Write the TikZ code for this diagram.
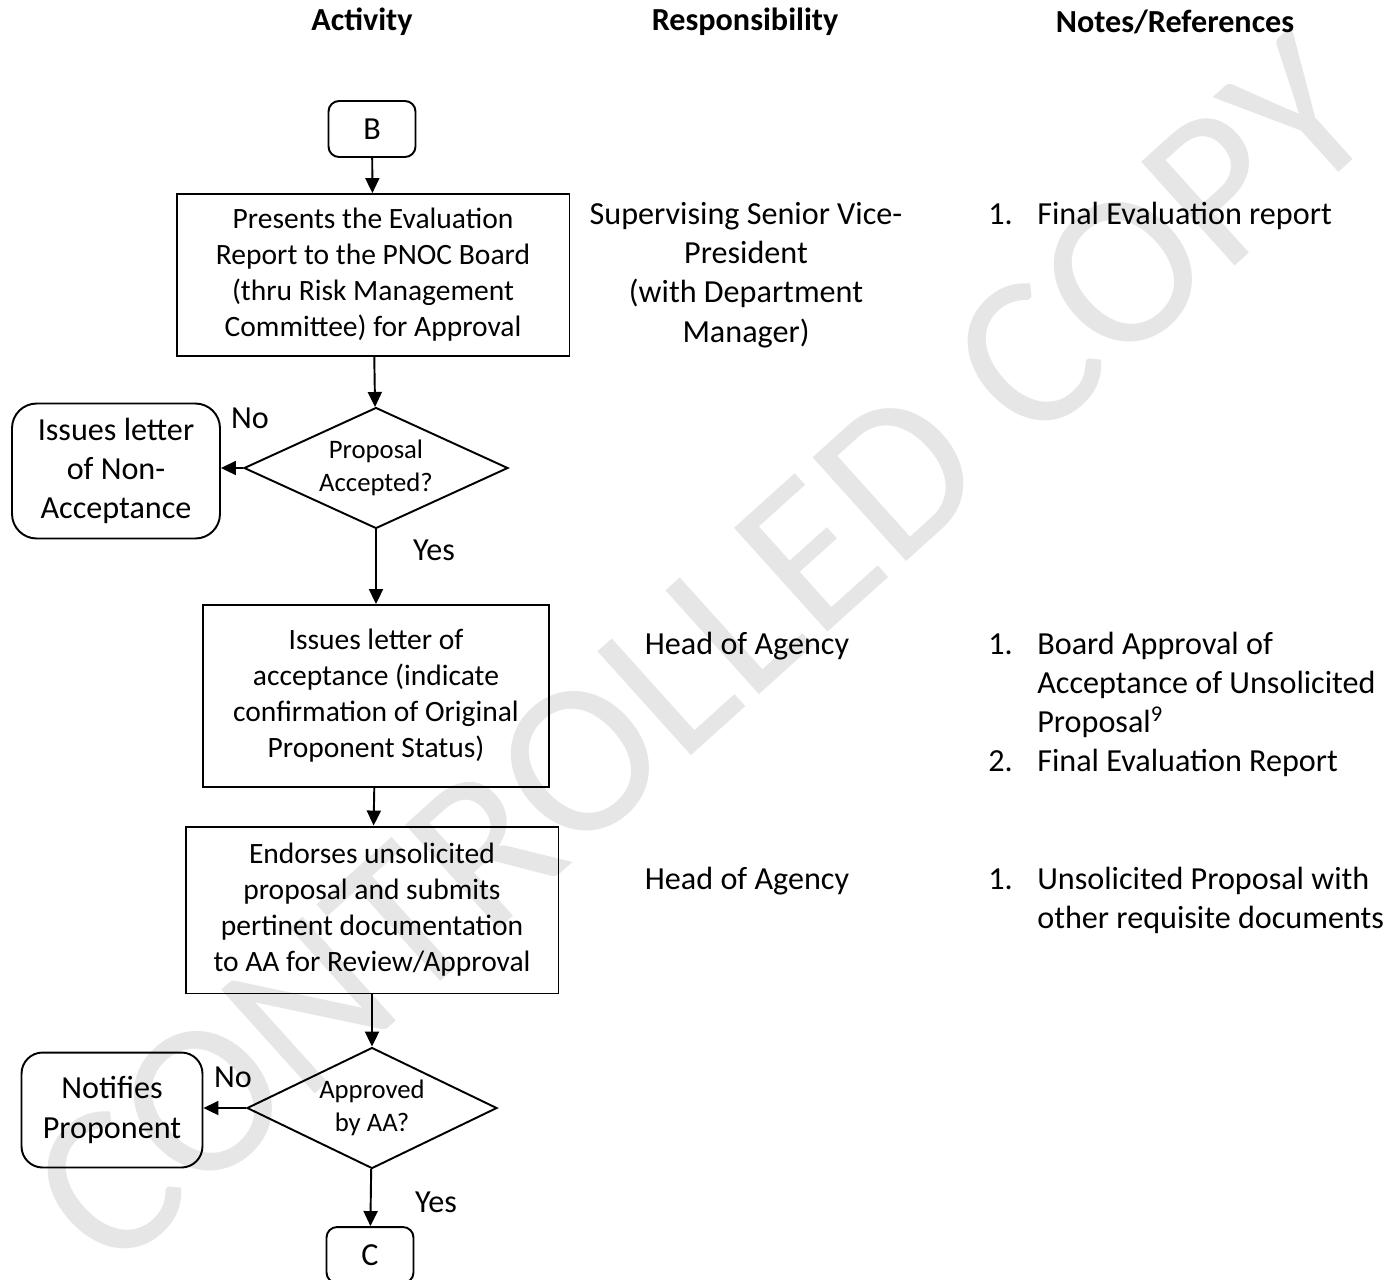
\documentclass[tikz,border=0pt]{standalone}
\usepackage{fontspec}
\setmainfont{Carlito}
\usetikzlibrary{arrows.meta,positioning,shapes.geometric}
\definecolor{wmgray}{HTML}{E6E6E6}
\newcommand{\boxfont}{\fontsize{16.8}{20.5}\selectfont}
\newcommand{\colfont}{\fontsize{18.3}{22.3}\selectfont}
\newcommand{\decfont}{\fontsize{15.2}{18.8}\selectfont}
\tikzset{
  activity/.style={rectangle,draw,line width=1.1pt,align=center,font=\boxfont,inner sep=2pt},
  terminal/.style={rectangle,rounded corners=6pt,draw,line width=1.1pt,align=center,font=\colfont,minimum width=1.74cm,minimum height=1.12cm},
  sidebox/.style={rectangle,rounded corners=14pt,draw,line width=1.1pt,align=center,font=\colfont},
  decision/.style={diamond,aspect=2.2,draw,line width=1.1pt,align=center,font=\decfont,inner sep=0pt},
  arrow/.style={-{Triangle[length=3mm,width=2.8mm]},line width=1.1pt},
  coltext/.style={font=\colfont,align=center,inner sep=0pt},
  notetext/.style={font=\colfont,inner sep=0pt,anchor=west},
  header/.style={font=\colfont\bfseries,inner sep=0pt},
  branch/.style={font=\colfont,inner sep=0pt}
}
\newcommand{\notelist}[1]{\begin{tabular}{@{}p{0.98cm}@{}l@{}}#1\end{tabular}}
\begin{document}
\begin{tikzpicture}[x=0.02cm,y=-0.02cm]
    \useasboundingbox (0,0) rectangle (1391,1279);
    % watermark
    \node[text=wmgray,font=\fontsize{124}{140}\selectfont,rotate=42,inner sep=0pt] (wm) at (702,652) {CONTROLLED COPY};
    % column headers
    \node[header] (hact) at (362,22) {Activity};
    \node[header] (hresp) at (745,22) {Responsibility};
    \node[header] (hnote) at (1175,22) {Notes/References};
    % activity column
    \node[terminal] (b) at (372,129) {B};
    \node[activity,minimum width=7.86cm,minimum height=3.24cm] (present) at (373,275) {Presents the Evaluation\\Report to the PNOC Board\\(thru Risk Management\\Committee) for Approval};
    \node[decision,minimum width=5.28cm,minimum height=2.42cm] (accepted) at (376,468) {Proposal\\Accepted?};
    \node[sidebox,minimum width=4.16cm,minimum height=2.7cm] (nonacc) at (116,471) {Issues letter\\of Non-\\Acceptance};
    \node[activity,minimum width=6.92cm,minimum height=3.64cm] (acceptance) at (376,696) {Issues letter of\\acceptance (indicate\\confirmation of Original\\Proponent Status)};
    \node[activity,minimum width=7.46cm,minimum height=3.34cm] (endorse) at (372,910) {Endorses unsolicited\\proposal and submits\\pertinent documentation\\to AA for Review/Approval};
    \node[decision,minimum width=5.0cm,minimum height=2.42cm] (approved) at (372,1108) {Approved\\by AA?};
    \node[sidebox,rounded corners=12pt,minimum width=3.62cm,minimum height=2.3cm] (notify) at (112,1110) {Notifies\\Proponent};
    \node[terminal] (c) at (370,1255) {C};
    \node[branch] (no1) at (250,418) {No};
    \node[branch] (yes1) at (434,550) {Yes};
    \node[branch] (no2) at (233,1077) {No};
    \node[branch] (yes2) at (436,1202) {Yes};
    \draw[arrow] (b) -- (present);
    \draw[arrow] (present) -- (accepted);
    \draw[arrow] (accepted.west) -- (nonacc.east |- accepted.west);
    \draw[arrow] (accepted) -- (acceptance);
    \draw[arrow] (acceptance) -- (endorse);
    \draw[arrow] (endorse) -- (approved);
    \draw[arrow] (approved.west) -- (notify.east |- approved.west);
    \draw[arrow] (approved) -- (c);
    % responsibility column
    \node[coltext] (resp1) at (746,275) {Supervising Senior Vice-\\President\\(with Department\\Manager)};
    \node[coltext] (resp2) at (747,646) {Head of Agency};
    \node[coltext] (resp3) at (747,881) {Head of Agency};
    % notes column
    \node[notetext] (note1) at (988,217) {\notelist{1.&Final Evaluation report}};
    \node[notetext] (note2) at (988,705) {\notelist{1.&Board Approval of\\&Acceptance of Unsolicited\\&Proposal\textsuperscript{9}\\2.&Final Evaluation Report}};
    \node[notetext] (note3) at (988,901) {\notelist{1.&Unsolicited Proposal with\\&other requisite documents}};
  \end{tikzpicture}
\end{document}
